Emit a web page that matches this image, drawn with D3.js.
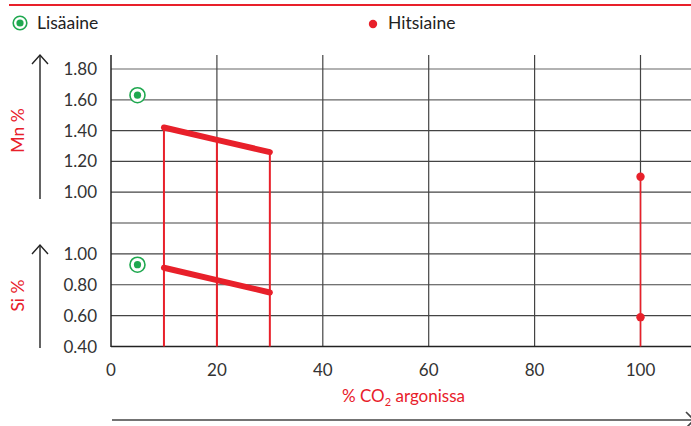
<!DOCTYPE html>
<html><head><meta charset="utf-8">
<script src="https://cdn.jsdelivr.net/npm/d3@7"></script>
<style>html,body{margin:0;padding:0;background:#fff;overflow:hidden}svg{display:block;font-family:Lato,"Open Sans",sans-serif}</style>
</head><body>
<script>
// ---- data ----
const xTicks = [0, 20, 40, 60, 80, 100];
const mnTicks = [1.80, 1.60, 1.40, 1.20, 1.00];
const siTicks = [1.00, 0.80, 0.60, 0.40];
const wireCO2 = [10, 20, 30];
const wireMn = [1.42, 1.34, 1.26];
const wireSi = [0.91, 0.83, 0.75];
const fillerCO2 = [5];
const fillerMn = [1.63];
const fillerSi = [0.93];
const weldCO2 = [100];
const weldMn = [1.10];
const weldSi = [0.59];
const legendLabels = ["Lisäaine", "Hitsiaine"];
const xTitle = "% CO";
const yTitles = ["Mn %", "Si %"];

const W = 691, H = 426;
const RED = "#e8202a", GREEN = "#1fa84f", GRID = "#444", TXT = "#333";
const svg = d3.select("body").append("svg").attr("width", W).attr("height", H);

const x = d3.scaleLinear().domain([0, 100]).range([111, 640.5]);
const yMn = d3.scaleLinear().domain([0.8, 1.8]).range([223, 69]);
const ySi = d3.scaleLinear().domain([0.4, 1.2]).range([346.5, 223]);
const plotTop = 55, plotBottom = ySi(0.4), plotRight = W;

// top red rule
svg.append("line").attr("x1", 9).attr("x2", W).attr("y1", 5).attr("y2", 5)
  .attr("stroke", RED).attr("stroke-width", 2);

// legend
const lg = svg.append("g");
lg.append("circle").attr("cx", 20).attr("cy", 23).attr("r", 6.8).attr("fill", "#fff").attr("stroke", GREEN).attr("stroke-width", 1.6);
lg.append("circle").attr("cx", 20).attr("cy", 23).attr("r", 3.6).attr("fill", GREEN);
lg.append("text").attr("x", 37).attr("y", 29).attr("font-size", 17.5).attr("fill", "#222").text(legendLabels[0]);
lg.append("circle").attr("cx", 373).attr("cy", 24).attr("r", 4.2).attr("fill", RED);
lg.append("text").attr("x", 388).attr("y", 29).attr("font-size", 17.5).attr("fill", "#222").text(legendLabels[1]);

// gridlines
const grid = svg.append("g").attr("stroke", GRID).attr("stroke-width", 1.2);
const mnLines = [1.8, 1.6, 1.4, 1.2, 1.0, 0.8];
grid.selectAll("line.mn").data(mnLines).join("line").attr("class", "mn")
  .attr("x1", x(0)).attr("x2", plotRight).attr("y1", d => yMn(d)).attr("y2", d => yMn(d))
  .attr("stroke", (d, i) => i < 2 ? "#666" : GRID);
grid.selectAll("line.si").data([1.0, 0.8, 0.6]).join("line").attr("class", "si")
  .attr("x1", x(0)).attr("x2", plotRight).attr("y1", d => ySi(d)).attr("y2", d => ySi(d));
grid.selectAll("line.v").data(xTicks.slice(1)).join("line").attr("class", "v")
  .attr("x1", d => x(d)).attr("x2", d => x(d)).attr("y1", plotTop).attr("y2", plotBottom);
// axes lines
svg.append("line").attr("x1", x(0)).attr("x2", x(0)).attr("y1", plotTop).attr("y2", plotBottom + 0.5).attr("stroke", "#222").attr("stroke-width", 1.5);
svg.append("line").attr("x1", x(0)).attr("x2", plotRight).attr("y1", plotBottom).attr("y2", plotBottom).attr("stroke", "#222").attr("stroke-width", 1.5);

// tick labels
const tl = svg.append("g").attr("font-size", 17).attr("fill", TXT);
tl.selectAll("text.mn").data(mnTicks).join("text").attr("class", "mn")
  .attr("x", 97).attr("y", d => yMn(d) + 6).attr("text-anchor", "end").text(d => d.toFixed(2));
tl.selectAll("text.si").data(siTicks).join("text").attr("class", "si")
  .attr("x", 97).attr("y", d => ySi(d) + 6).attr("text-anchor", "end").text(d => d.toFixed(2));
tl.selectAll("text.x").data(xTicks).join("text").attr("class", "x")
  .attr("x", d => x(d)).attr("y", 376).attr("text-anchor", "middle").text(d => d);

// axis titles
const xt = svg.append("text").attr("x", 403.5).attr("y", 402).attr("text-anchor", "middle")
  .attr("font-size", 17).attr("fill", RED);
xt.append("tspan").text(xTitle);
xt.append("tspan").attr("font-size", 11).attr("dy", 4).text("2");
xt.append("tspan").attr("dy", -4).text(" argonissa");
svg.append("text").attr("transform", "translate(24,130.5) rotate(-90)").attr("text-anchor", "middle")
  .attr("font-size", 17.5).attr("fill", RED).text(yTitles[0]);
svg.append("text").attr("transform", "translate(24,295.5) rotate(-90)").attr("text-anchor", "middle")
  .attr("font-size", 17.5).attr("fill", RED).text(yTitles[1]);

// arrows
function vArrow(x0, y0, y1) {
  const g = svg.append("g").attr("stroke", "#222").attr("stroke-width", 1.4).attr("fill", "none");
  g.append("line").attr("x1", x0).attr("x2", x0).attr("y1", y0).attr("y2", y1);
  g.append("path").attr("d", `M${x0 - 8},${y0 + 9}L${x0},${y0}L${x0 + 8},${y0 + 9}`);
}
vArrow(40, 55, 199);
vArrow(40, 245, 348);
const ha = svg.append("g").attr("stroke", "#444").attr("stroke-width", 1.6).attr("fill", "none");
ha.append("line").attr("x1", 112).attr("x2", 692).attr("y1", 420).attr("y2", 420);
ha.append("path").attr("d", "M686,412L694,420L686,428");

// wire verticals
svg.append("g").selectAll("line").data(wireCO2).join("line")
  .attr("x1", d => x(d)).attr("x2", d => x(d))
  .attr("y1", (d, i) => yMn(wireMn[i])).attr("y2", plotBottom)
  .attr("stroke", RED).attr("stroke-width", 2);
// thick lines
const lineMn = d3.line().x(d => x(d[0])).y(d => yMn(d[1]));
const lineSi = d3.line().x(d => x(d[0])).y(d => ySi(d[1]));
svg.append("path").attr("d", lineMn(wireCO2.map((c, i) => [c, wireMn[i]])))
  .attr("stroke", RED).attr("stroke-width", 6).attr("stroke-linecap", "round").attr("fill", "none");
svg.append("path").attr("d", lineSi(wireCO2.map((c, i) => [c, wireSi[i]])))
  .attr("stroke", RED).attr("stroke-width", 6).attr("stroke-linecap", "round").attr("fill", "none");

// weld metal
svg.append("g").selectAll("line").data(weldCO2).join("line")
  .attr("x1", d => x(d)).attr("x2", d => x(d))
  .attr("y1", (d, i) => yMn(weldMn[i])).attr("y2", plotBottom)
  .attr("stroke", RED).attr("stroke-width", 1.6);
svg.append("g").selectAll("circle.mn").data(weldCO2).join("circle")
  .attr("cx", d => x(d)).attr("cy", (d, i) => yMn(weldMn[i])).attr("r", 4.2).attr("fill", RED);
svg.append("g").selectAll("circle.si").data(weldCO2).join("circle")
  .attr("cx", d => x(d)).attr("cy", (d, i) => ySi(weldSi[i])).attr("r", 4.2).attr("fill", RED);

// filler
function filler(cx, cy) {
  svg.append("circle").attr("cx", cx).attr("cy", cy).attr("r", 7.5).attr("fill", "#fff").attr("stroke", GREEN).attr("stroke-width", 1.6);
  svg.append("circle").attr("cx", cx).attr("cy", cy).attr("r", 3.6).attr("fill", GREEN);
}
fillerCO2.forEach((c, i) => { filler(x(c), yMn(fillerMn[i])); filler(x(c), ySi(fillerSi[i])); });
</script>
</body></html>
